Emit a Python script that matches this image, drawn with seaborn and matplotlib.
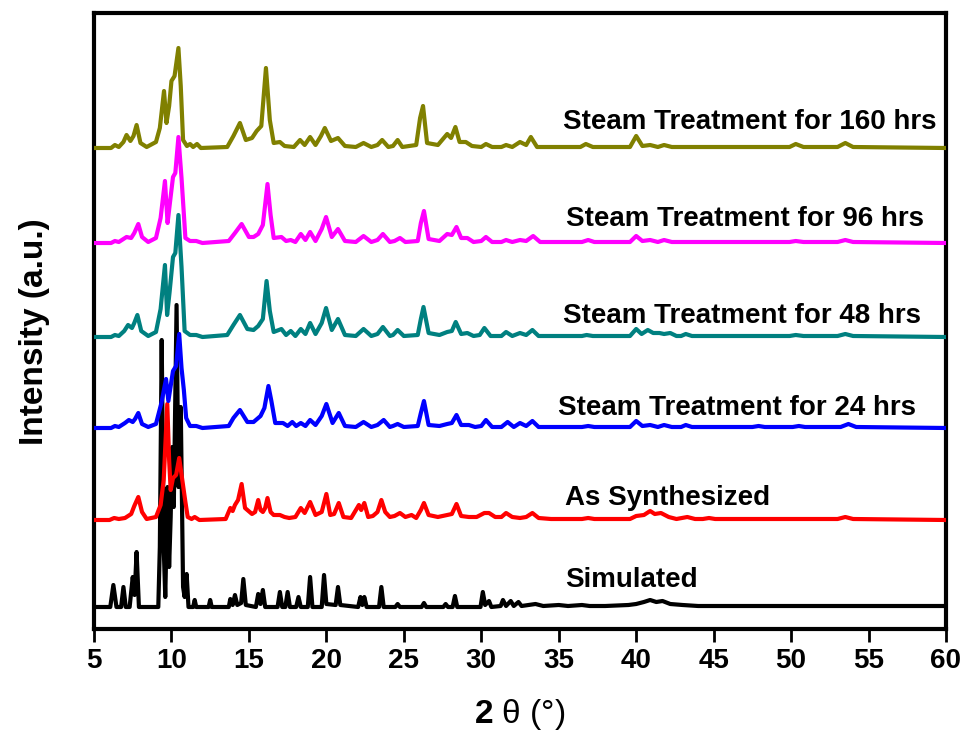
import numpy as np
import pandas as pd
import matplotlib
matplotlib.use("Agg")
import matplotlib.pyplot as plt
import seaborn as sns

# ---------------- data (2theta, intensity) ----------------
samples = ["Simulated", "As Synthesized", "Steam Treatment for 24 hrs",
           "Steam Treatment for 48 hrs", "Steam Treatment for 96 hrs",
           "Steam Treatment for 160 hrs"]

simulated = [(5.0,0),(6.05,0),(6.25,22),(6.45,0),(6.75,0),(6.9,20),(7.05,0),(7.3,0),(7.5,30),(7.62,12),(7.75,55),(7.9,0),
    (9.15,0),(9.25,60),(9.37,267),(9.5,60),(9.6,10),(9.75,120),(9.85,40),(9.95,90),(10.05,160),(10.15,100),(10.33,302),
    (10.45,120),(10.6,200),(10.75,20),(10.85,10),(10.98,33),(11.1,0),(11.4,0),(11.5,7),(11.6,0),(12.4,0),(12.5,7),(12.6,0),
    (13.7,0),(13.8,8),(13.95,2),(14.1,12),(14.25,2),(14.5,4),(14.64,28),(14.8,2),(15.45,0),(15.6,13),(15.75,3),(15.9,17),
    (16.05,0),(16.85,0),(17.0,15),(17.15,0),(17.35,0),(17.5,15),(17.65,0),(18.05,0),(18.2,10),(18.35,0),(18.8,0),(18.95,30),
    (19.1,0),(19.7,0),(19.85,32),(20.0,3),(20.6,2),(20.75,20),(20.9,2),(22.05,0),(22.2,10),(22.32,2),(22.45,10),(22.6,0),
    (23.4,0),(23.55,20),(23.7,0),(24.45,0),(24.6,3),(24.75,0),(26.15,0),(26.3,4),(26.45,0),(27.55,0),(27.7,3),(27.85,0),
    (28.15,0),(28.3,11),(28.45,0),(29.95,0),(30.1,15),(30.25,2),(30.5,6),(30.65,0),(31.25,1),(31.4,7),(31.6,1),(31.9,6),
    (32.1,1),(32.4,5),(32.6,1),(33.5,3),(34.0,1),(35.0,2),(35.6,1),(36.5,2),(37.0,1),(38.0,1),(39.5,2),(40.0,3),(40.5,5),
    (40.9,7),(41.3,5),(41.7,6),(42.2,3),(43.0,2),(44.0,1),(45.5,1),(47.0,1),(49.0,1),(52.0,1),(55.0,1),(58.0,1),(60.0,1)]

as_synthesized = [(5.0,0),(6.0,0),(6.3,2),(6.6,1),(7.0,2),(7.4,6),(7.6,14),(7.86,23),(8.1,8),(8.4,1),(9.0,3),(9.3,15),
    (9.5,40),(9.73,116),(9.85,60),(9.95,30),(10.1,42),(10.3,45),(10.5,62),(10.7,40),(10.9,18),(11.05,3),(11.3,1),(11.5,3),
    (11.8,0),(13.5,1),(13.8,12),(13.95,9),(14.1,15),(14.3,20),(14.53,36),(14.75,12),(14.9,10),(15.2,6),(15.4,8),(15.6,20),
    (15.75,10),(15.9,8),(16.05,12),(16.2,22),(16.4,8),(16.6,5),(17.0,5),(17.3,3),(17.6,2),(18.0,3),(18.35,12),(18.6,7),
    (18.95,18),(19.3,5),(19.7,8),(20.0,26),(20.25,5),(20.5,6),(20.8,17),(21.1,3),(21.6,2),(22.1,15),(22.25,10),(22.45,17),
    (22.7,3),(23.0,4),(23.3,8),(23.55,20),(23.8,8),(24.1,3),(24.4,4),(24.75,7),(25.1,3),(25.5,5),(25.8,2),(26.1,10),
    (26.3,17),(26.6,5),(27.2,3),(27.8,5),(28.1,6),(28.4,16),(28.7,4),(29.2,3),(29.7,3),(30.2,7),(30.5,7),(30.9,3),(31.3,3),
    (31.6,7),(32.0,3),(32.5,2),(32.9,3),(33.3,7),(33.7,2),(34.5,1),(36.5,1),(36.9,2),(37.3,1),(39.6,1),(40.0,4),(40.5,5),
    (40.9,9),(41.2,6),(41.6,7),(42.1,3),(42.6,1),(43.3,3),(43.8,1),(44.3,1),(44.7,2),(45.1,1),(53.0,1),(53.5,3),(54.0,1),
    (60.0,0)]

steam_24 = [(5.0,0),(6.1,0),(6.35,2),(6.6,1),(7.0,5),(7.25,8),(7.5,6),(7.65,9),(7.86,15),(8.1,4),(8.5,1),(9.0,4),
    (9.35,25),(9.65,49),(9.8,27),(10.1,57),(10.3,62),(10.5,94),(10.65,60),(10.8,38),(10.95,10),(11.2,2),(11.6,2),(12.0,0),
    (13.7,2),(14.0,10),(14.42,18),(14.9,6),(15.3,6),(15.75,12),(16.0,20),(16.26,42),(16.45,27),(16.7,5),(17.2,5),(17.5,2),
    (17.8,6),(18.05,2),(18.35,5),(18.65,2),(18.95,8),(19.3,3),(19.7,12),(20.0,24),(20.4,5),(20.8,15),(21.2,2),(21.9,1),
    (22.4,6),(22.9,1),(23.3,3),(23.7,8),(24.1,1),(24.3,2),(24.6,4),(25.0,1),(25.9,2),(26.1,15),(26.3,27),(26.6,3),(27.3,2),
    (27.8,4),(28.1,5),(28.4,13),(28.7,3),(29.2,3),(29.6,1),(30.0,2),(30.3,8),(30.7,1),(31.3,1),(31.7,6),(32.1,1),(32.5,5),
    (32.9,2),(33.3,7),(33.7,1),(36.5,1),(36.9,2),(37.3,1),(39.6,1),(40.0,7),(40.4,2),(40.9,3),(41.4,1),(41.8,3),(42.3,1),
    (42.9,1),(43.2,3),(43.6,1),(47.5,1),(47.9,2),(48.3,1),(50.1,1),(50.5,2),(50.9,1),(53.2,1),(53.7,4),(54.2,1),(60.0,0)]

steam_48 = [(5.0,0),(6.1,0),(6.35,2),(6.6,1),(6.95,6),(7.2,12),(7.45,9),(7.6,14),(7.8,22),(8.05,6),(8.5,1),(9.0,5),
    (9.3,28),(9.58,72),(9.72,22),(9.88,45),(10.1,80),(10.25,84),(10.45,122),(10.65,70),(10.85,6),(11.2,2),(11.6,2),(12.0,0),
    (13.6,2),(14.0,12),(14.42,22),(14.9,8),(15.3,7),(15.6,11),(15.9,18),(16.14,56),(16.35,26),(16.6,5),(17.1,8),(17.4,2),
    (17.7,6),(18.0,1),(18.35,8),(18.65,3),(18.95,14),(19.3,3),(19.7,14),(19.98,29),(20.35,7),(20.75,18),(21.2,2),(21.9,1),
    (22.4,8),(22.9,1),(23.3,3),(23.65,10),(24.1,1),(24.3,2),(24.6,7),(25.0,1),(25.9,2),(26.1,18),(26.27,30),(26.6,4),
    (27.3,2),(27.8,5),(28.1,6),(28.35,15),(28.7,3),(29.1,4),(29.5,1),(29.9,2),(30.2,9),(30.6,1),(31.3,1),(31.6,5),(32.0,1),
    (32.5,4),(32.9,2),(33.3,7),(33.7,1),(36.5,1),(36.8,2),(37.2,1),(39.6,1),(40.0,8),(40.35,3),(40.75,7),(41.1,4),(41.5,4),
    (41.8,3),(42.2,4),(42.6,1),(42.9,1),(43.2,3),(43.6,1),(49.9,1),(50.3,2),(50.8,1),(53.0,1),(53.5,3),(54.0,1),(60.0,0)]

steam_96 = [(5.0,0),(6.1,0),(6.35,2),(6.6,1),(6.9,4),(7.1,6),(7.4,5),(7.6,10),(7.86,19),(8.1,6),(8.5,1),(9.0,5),
    (9.3,25),(9.58,62),(9.75,20),(9.9,40),(10.1,66),(10.25,70),(10.45,106),(10.65,65),(10.9,5),(11.2,2),(11.6,2),(12.0,0),
    (13.7,2),(14.1,10),(14.53,19),(15.0,6),(15.3,6),(15.6,9),(15.9,18),(16.2,59),(16.4,28),(16.6,5),(17.1,6),(17.4,2),
    (17.7,3),(18.0,1),(18.35,9),(18.65,3),(18.95,11),(19.3,2),(19.7,14),(19.98,26),(20.35,6),(20.75,14),(21.2,2),(21.9,1),
    (22.4,7),(22.9,1),(23.3,3),(23.65,9),(24.1,1),(24.4,2),(24.75,5),(25.1,1),(25.9,2),(26.1,20),(26.3,32),(26.6,4),
    (27.3,2),(27.8,9),(28.1,8),(28.4,16),(28.7,5),(29.1,5),(29.5,1),(30.0,2),(30.3,6),(30.7,1),(31.3,1),(31.6,3),(32.0,1),
    (32.5,3),(32.9,2),(33.35,7),(33.8,1),(36.5,1),(36.9,3),(37.3,1),(39.6,1),(40.0,7),(40.4,2),(40.9,3),(41.4,1),(41.8,3),
    (42.3,1),(49.9,1),(50.3,2),(50.8,1),(53.0,1),(53.5,3),(54.0,1),(60.0,0)]

steam_160 = [(5.0,0),(6.1,0),(6.35,3),(6.6,1),(6.9,6),(7.1,13),(7.35,7),(7.55,12),(7.75,23),(8.0,5),(8.4,1),(9.0,6),
    (9.25,20),(9.52,57),(9.68,25),(9.85,42),(10.0,67),(10.2,72),(10.45,100),(10.6,62),(10.75,8),(11.0,2),(11.2,4),(11.4,1),
    (11.65,4),(11.9,0),(13.6,1),(14.0,12),(14.42,25),(14.8,8),(15.2,10),(15.5,17),(15.8,22),(16.1,80),(16.35,28),(16.6,5),
    (17.0,6),(17.3,2),(17.9,1),(18.3,8),(18.6,3),(18.95,11),(19.3,3),(19.65,12),(19.9,20),(20.3,7),(20.75,10),(21.2,2),
    (21.9,1),(22.4,5),(22.9,1),(23.3,3),(23.6,8),(24.0,1),(24.3,2),(24.6,8),(24.9,1),(25.8,3),(26.05,30),(26.24,42),
    (26.5,5),(27.2,3),(27.8,14),(28.05,10),(28.33,21),(28.6,6),(29.0,6),(29.4,2),(30.0,1),(30.3,4),(30.7,1),(31.3,1),
    (31.6,3),(32.0,1),(32.5,6),(32.9,3),(33.2,11),(33.6,1),(36.4,1),(36.75,4),(37.2,1),(39.6,1),(40.0,12),(40.4,2),(40.9,3),
    (41.4,1),(41.8,3),(42.3,1),(49.9,1),(50.3,4),(50.8,1),(53.0,1),(53.5,5),(54.0,1),(60.0,0)]

x_ticks = [5, 10, 15, 20, 25, 30, 35, 40, 45, 50, 55, 60]

# ---------------- styling / layout ----------------
series = [simulated, as_synthesized, steam_24, steam_48, steam_96, steam_160]
offsets = [22, 109, 201, 292, 386, 481]
colors = ["#000000", "#FF0000", "#0000FF", "#008080", "#FF00FF", "#808000"]
label_pos = [(35.40, 49), (35.40, 131), (34.95, 221), (35.28, 313), (35.47, 410), (35.28, 507)]

rows = []
for name, pts, off in zip(samples, series, offsets):
    for i, (x, y) in enumerate(pts):
        rows.append({"sample": name, "order": i, "two_theta": x, "y": y + off})
df = pd.DataFrame(rows)

sns.set_theme(style="ticks")
plt.rcParams["font.family"] = ["Liberation Sans", "DejaVu Sans"]
plt.rcParams["mathtext.fontset"] = "custom"
plt.rcParams["mathtext.rm"] = "Liberation Sans"
plt.rcParams["mathtext.bf"] = "Liberation Sans:bold"

fig = plt.figure(figsize=(9.66, 7.44), dpi=100)
ax = fig.add_axes([94/966, (744-629)/744, (946-94)/966, (629-13)/744])

draw_order = [0, 1, 2, 3, 5, 4]
for k in draw_order:
    sub = df[df["sample"] == samples[k]]
    sns.lineplot(data=sub, x="two_theta", y="y", color=colors[k], lw=3.0,
                 sort=False, estimator=None, ax=ax, legend=False, zorder=2 + k,
                 solid_joinstyle="round", solid_capstyle="round")

for name, (lx, ly) in zip(samples, label_pos):
    ax.text(lx, ly, name, fontsize=20, fontweight="bold", ha="left", va="center", color="black")

ax.set_xlim(5, 60)
ax.set_ylim(0, 616)
ax.set_xticks(x_ticks)
ax.set_xticklabels([str(t) for t in x_ticks], fontsize=20, fontweight="bold")
ax.set_yticks([])
ax.tick_params(axis="x", direction="out", length=9, width=2, pad=5, colors="black")
for sp in ax.spines.values():
    sp.set_visible(True)
    sp.set_linewidth(3)
    sp.set_color("black")

ax.set_xlabel(r"$\mathbf{2}$ θ (°)", fontsize=24, color="black")
ax.xaxis.set_label_coords(0.5, -0.11)
ax.set_ylabel("Intensity (a.u.)", fontsize=24, fontweight="bold", color="black")
ax.yaxis.set_label_coords(-0.052, 0.482)

fig.savefig("out.png", dpi=100)
